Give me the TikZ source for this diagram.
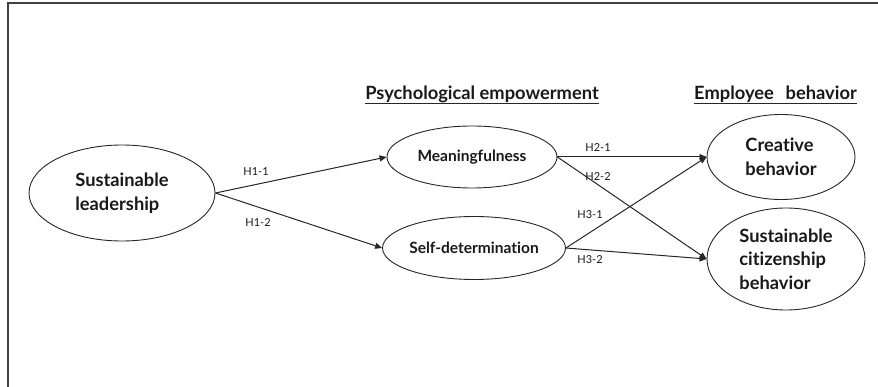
\documentclass[tikz,border=0pt]{standalone}
\usepackage{fontspec}
\setmainfont{Lato}[Ligatures=NoCommon]
\usetikzlibrary{shapes.geometric,arrows.meta}
\begin{document}
\begin{tikzpicture}[x=1pt,y=-1pt,
  construct/.style={ellipse, draw=black!85, line width=0.9pt, inner sep=0pt, align=left, text=black!90},
  bigtext/.style={font=\fontsize{18.3}{23.5}\selectfont\bfseries},
  midtext/.style={font=\fontsize{15.5}{18}\selectfont\bfseries},
  link/.style={draw=black!85, line width=1pt, -{Triangle[length=7pt,width=6pt]}},
  hyp/.style={font=\fontsize{11}{12}\selectfont, inner sep=0pt, text=black!90},
  heading/.style={font=\fontsize{18.3}{22}\selectfont\bfseries, inner sep=0pt, anchor=base, text=black!90}]
\useasboundingbox (0,0) rectangle (878,387);
% frame along the top and left edges
\draw[line width=1.3pt, black!75] (878,3) -- (8,3) -- (8,387);

% column headings
\node[heading] (hpe) at (482,100) {Psychological empowerment};
\node[heading] (heb) at (775.5,100) {Employee\hspace{0.4em} behavior};
\draw[line width=0.9pt, black!85] ([yshift=-3pt]hpe.base west) -- ([yshift=-3pt]hpe.base east);
\draw[line width=0.9pt, black!85] ([yshift=-3pt]heb.base west) -- ([yshift=-3pt]heb.base east);

% constructs
\node[construct, bigtext, minimum width=186pt, minimum height=96pt] (sl) at (122,193) {Sustainable\\leadership};
\node[construct, midtext, minimum width=170pt, minimum height=62pt] (mf) at (472,157) {Meaningfulness};
\node[construct, midtext, minimum width=168pt, minimum height=63pt] (sd) at (474,248) {Self-determination};
\node[construct, bigtext, minimum width=148pt, minimum height=85pt] (cb) at (781,157) {Creative\\behavior};
\node[construct, bigtext, minimum width=158pt, minimum height=102pt] (scb) at (786,259) {Sustainable\\citizenship\\behavior};

% hypothesised paths
\draw[link] (sl.east) -- (mf.west);
\draw[link] (sl.east) -- (sd.west);
\draw[link] (mf.east) -- (cb.west);
\draw[link] (mf.east) -- (scb.west);
\draw[link] (sd.east) -- (cb.west);
\draw[link] (sd.east) -- (scb.west);

% path labels
\node[hyp] (h11) at (256,172) {H1-1};
\node[hyp] (h12) at (258,223) {H1-2};
\node[hyp] (h21) at (598,148) {H2-1};
\node[hyp] (h22) at (598,177) {H2-2};
\node[hyp] (h31) at (590,215) {H3-1};
\node[hyp] (h32) at (590,260) {H3-2};
\end{tikzpicture}
\end{document}
